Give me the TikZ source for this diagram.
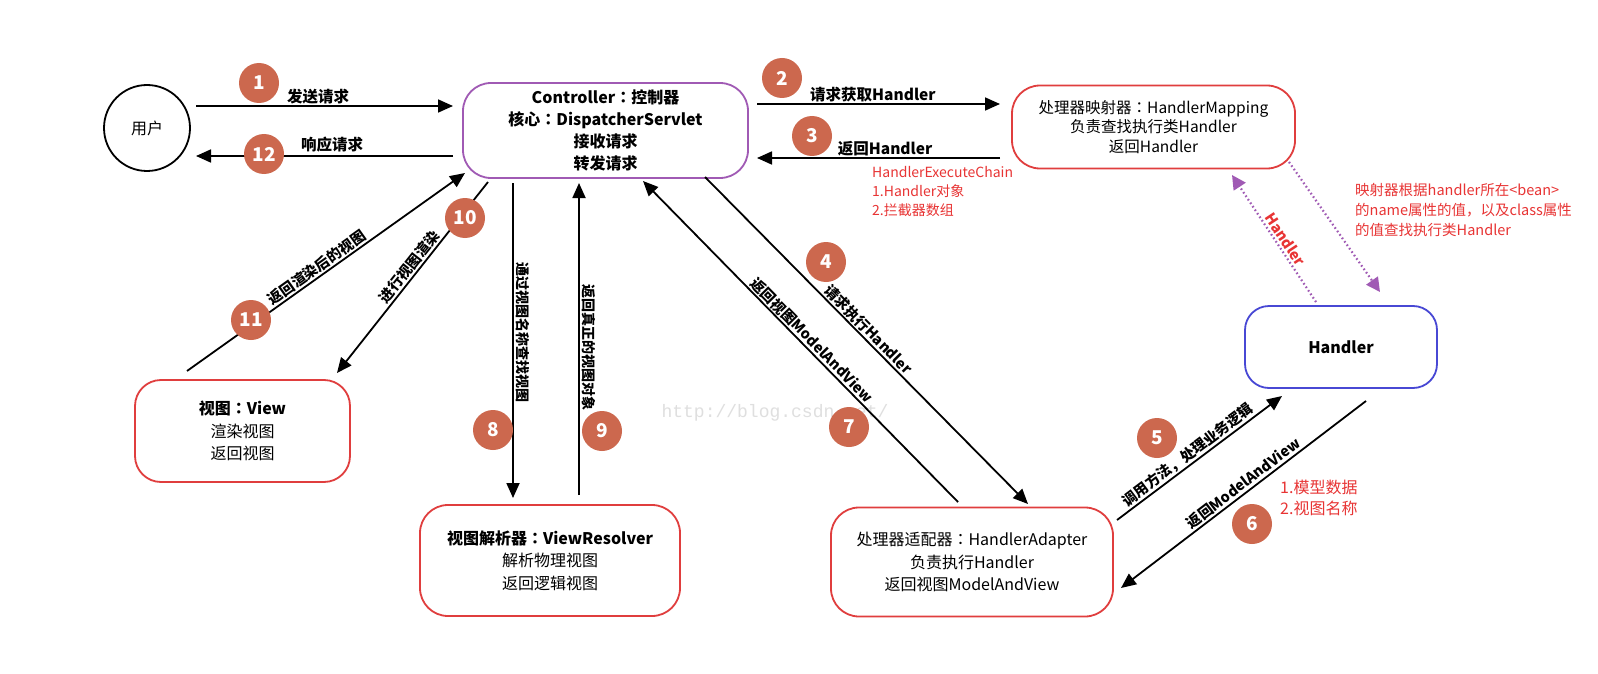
\documentclass[tikz,border=0pt]{standalone}
\usepackage{fontspec}
\setmainfont{Noto Sans CJK SC}
\newfontfamily\tcf{Noto Sans CJK TC}
\newfontfamily\wmfont{Liberation Mono}
\newcommand\mycolon{{\tcf ：}}
\usetikzlibrary{arrows.meta,calc}
\definecolor{numc}{RGB}{204,104,78}
\definecolor{ctrlc}{RGB}{160,90,180}
\definecolor{boxr}{RGB}{224,62,62}
\definecolor{boxb}{RGB}{72,72,212}
\definecolor{redt}{RGB}{232,52,52}
\begin{document}
\begin{tikzpicture}[x=1pt,y=-1pt,
  box/.style={draw=boxr, line width=1.8pt, rounded corners=28pt, align=center, inner sep=0pt,
    font=\fontsize{16}{22.5}\selectfont},
  num/.style={circle, fill=numc, minimum size=40pt, inner sep=0pt, text=white,
    font=\fontsize{19}{19}\selectfont\bfseries},
  arr/.style={line width=1.8pt, -{Triangle[length=15pt,width=13pt]}},
  lab/.style={font=\fontsize{15.5}{15.5}\selectfont\bfseries, inner sep=1.2pt},
  dlab/.style={font=\fontsize{14.5}{14.5}\selectfont\bfseries, inner sep=1.2pt},
  vlab/.style={font=\fontsize{14}{14}\selectfont\bfseries, inner sep=2pt},
  dotarr/.style={ctrlc, line width=2.2pt, dash pattern=on 1.6pt off 2.6pt,
    -{Triangle[length=14pt,width=14pt]}},
  note/.style={text=redt, align=left, anchor=west, inner sep=0pt}
]
\useasboundingbox[fill=white] (0,0) rectangle (1598,674);

% watermark
\node[text=gray!25, font=\wmfont\fontsize{18}{18}\selectfont] (wm) at (775,413) {http://blog.csdn.net/};

% nodes
\node[draw, circle, line width=1.8pt, minimum size=86pt, inner sep=0pt,
  font=\fontsize{16}{16}\selectfont] (user) at (147,128) {用户};
\node[box, draw=ctrlc, minimum width=285pt, minimum height=95pt,
  font=\fontsize{16}{22}\selectfont\bfseries] (ctrl) at (605.5,130.5)
  {Controller\mycolon 控制器\\核心\mycolon DispatcherServlet\\接收请求\\转发请求};
\node[box, minimum width=283pt, minimum height=83pt,
  font=\fontsize{15.5}{19.5}\selectfont] (map) at (1153.5,127)
  {处理器映射器\mycolon HandlerMapping\\负责查找执行类Handler\\返回Handler};
\node[box, draw=boxb, rounded corners=24pt, minimum width=192pt, minimum height=82pt,
  font=\fontsize{16}{16}\selectfont\bfseries] (hdl) at (1341,347) {Handler};
\node[box, minimum width=282pt, minimum height=109pt] (ada) at (972,562)
  {处理器适配器\mycolon HandlerAdapter\\负责执行Handler\\返回视图ModelAndView};
\node[box, minimum width=260pt, minimum height=111pt] (res) at (550,560.5)
  {\textbf{视图解析器\mycolon ViewResolver}\\解析物理视图\\返回逻辑视图};
\node[box, rounded corners=26pt, minimum width=215pt, minimum height=102pt] (view) at (242.5,431)
  {\textbf{视图\mycolon View}\\渲染视图\\返回视图};

% connector end points
\coordinate (a1s) at (196,106);  \coordinate (a1e) at (453,106);
\coordinate (a12s) at (453,156); \coordinate (a12e) at (196,156);
\coordinate (a2s) at (757,104);  \coordinate (a2e) at (1000,104);
\coordinate (a3s) at (1000,158); \coordinate (a3e) at (757,158);
\coordinate (a4s) at (705,177);  \coordinate (a4e) at (1028,504);
\coordinate (a7s) at (958,502);  \coordinate (a7e) at (643,181);
\coordinate (a5s) at (1117,520); \coordinate (a5e) at (1282,396);
\coordinate (a6s) at (1366,401); \coordinate (a6e) at (1121,588);
\coordinate (a8s) at (513,183);  \coordinate (a8e) at (513,498);
\coordinate (a9s) at (579,495);  \coordinate (a9e) at (579,183);
\coordinate (a10s) at (488,182); \coordinate (a10e) at (337,373);
\coordinate (a11s) at (187,371); \coordinate (a11e) at (465,173);
\coordinate (d1s) at (1316,302); \coordinate (d1e) at (1232,175);
\coordinate (d2s) at (1289,162); \coordinate (d2e) at (1380,292);

% connectors
\draw[arr] (a1s) -- node[lab, pos=.475, above] {发送请求} (a1e);
\draw[arr] (a12s) -- node[lab, pos=.47, above, yshift=2pt] {响应请求} (a12e);
\draw[arr] (a2s) -- node[lab, pos=.477, above] {请求获取Handler} (a2e);
\draw[arr] (a3s) -- node[lab, pos=.473, above] {返回Handler} (a3e);
\draw[arr] (a4s) -- node[dlab, pos=.486, sloped, above] {请求执行Handler} (a4e);
\draw[arr] (a7s) -- node[dlab, pos=.484, sloped, above] {返回视图ModelAndView} (a7e);
\draw[arr] (a5s) -- node[dlab, pos=.463, sloped, above] {调用方法，处理业务逻辑} (a5e);
\draw[arr] (a6s) -- node[dlab, pos=.479, sloped, above] {返回ModelAndView} (a6e);
\draw[arr] (a8s) -- node[vlab, pos=.476, rotate=-90, anchor=south] {通过视图名称查找视图} (a8e);
\draw[arr] (a9s) -- node[vlab, pos=.474, rotate=-90, anchor=south] {返回真正的视图对象} (a9e);
\draw[arr] (a10s) -- node[dlab, pos=.4725, sloped, above] {进行视图渲染} (a10e);
\draw[arr] (a11s) -- node[dlab, pos=.485, sloped, above] {返回渲染后的视图} (a11e);
\draw[dotarr] (d1s) -- node[dlab, text=redt, pos=.452, sloped, above, yshift=1pt] {Handler} (d1e);
\draw[dotarr] (d2s) -- (d2e);

% red notes
\node[note, font=\fontsize{14}{19}\selectfont] (chain) at (872,192)
  {HandlerExecuteChain\\1.Handler对象\\2.拦截器数组};
\node[note, font=\fontsize{14.5}{20}\selectfont] (mapnote) at (1355,210.5)
  {映射器根据handler所在<bean>\\的name属性的值，以及class属性\\的值查找执行类Handler};
\node[note, font=\fontsize{16}{21}\selectfont] (mvnote) at (1280,497.5)
  {1.模型数据\\2.视图名称};

% step numbers
\node[num] (n1) at (259,83) {1};
\node[num] (n2) at (782,78) {2};
\node[num] (n3) at (812,136) {3};
\node[num] (n4) at (826,262) {4};
\node[num] (n5) at (1157,438) {5};
\node[num] (n6) at (1252,524) {6};
\node[num] (n7) at (849,427) {7};
\node[num] (n8) at (493,430) {8};
\node[num] (n9) at (602,431) {9};
\node[num] (n10) at (465,218) {10};
\node[num] (n11) at (251,320) {11};
\node[num] (n12) at (264,154) {12};
\end{tikzpicture}
\end{document}
